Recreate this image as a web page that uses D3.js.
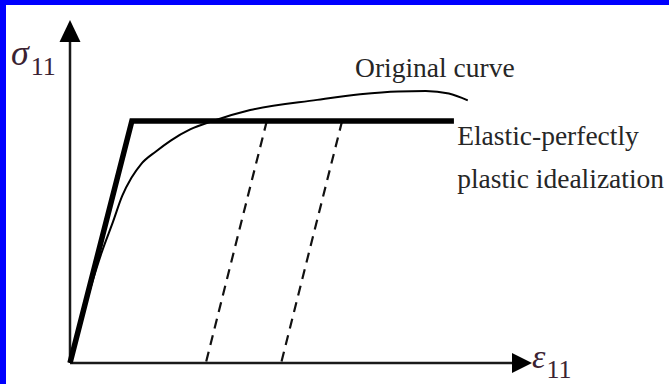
<!DOCTYPE html>
<html>
<head>
<meta charset="utf-8">
<script src="https://cdn.jsdelivr.net/npm/d3@7"></script>
<style>
  body { margin: 0; background: #fff; }
  svg { display: block; }
  text { font-family: "Liberation Serif", "DejaVu Serif", serif; }
</style>
</head>
<body>
<div id="chart"></div>
<script>
// strain / stress values (plateau stress = 1)
var original_curve = [
  [0, 0], [0.216, 0.157], [0.45, 0.314], [0.69, 0.459], [0.93, 0.583],
  [1.13, 0.69], [1.33, 0.765], [1.54, 0.822], [1.86, 0.874], [2.18, 0.919],
  [2.60, 0.965], [3.095, 1.0], [3.90, 1.045], [5.35, 1.087], [6.28, 1.11],
  [7.1, 1.122], [7.7, 1.124], [8.2, 1.113], [8.61, 1.085]
]
var idealization = [[0, 0], [1.34, 1], [8.31, 1]]
var unloading = [
  [[4.26, 1], [2.94, 0]],
  [[5.89, 1], [4.57, 0]]
]
var axis_max = { strain: 10, stress: 1.417 }

var labels = [
  { text: "Original curve", strain: 6.17, stress: 1.18 },
  { text: "Elastic-perfectly", strain: 8.38, stress: 0.9 },
  { text: "plastic idealization", strain: 8.38, stress: 0.723 }
]

var width = 669, height = 384

var svg = d3.select("#chart").append("svg")
    .attr("width", width)
    .attr("height", height)

// blue frame (top and left only)
svg.append("rect").attr("x", 0).attr("y", 0).attr("width", width).attr("height", 5).style("fill", "#0000ff")
svg.append("rect").attr("x", 0).attr("y", 0).attr("width", 6).attr("height", height).style("fill", "#0000ff")

var x = d3.scaleLinear().domain([0, axis_max.strain]).range([70, 532])
var y = d3.scaleLinear().domain([0, axis_max.stress]).range([363, 20])

var line = d3.line()
    .x(function(d) { return x(d[0]) })
    .y(function(d) { return y(d[1]) })

// axes
var x0 = x(0), y0 = y(0), xe = x(axis_max.strain), ye = y(axis_max.stress)
svg.append("line")
    .attr("x1", x0).attr("y1", y0).attr("x2", xe - 15).attr("y2", y0)
    .style("stroke", "#1a1a1a").style("stroke-width", 2.5)
svg.append("line")
    .attr("x1", x0).attr("y1", y0).attr("x2", x0).attr("y2", ye + 15)
    .style("stroke", "#1a1a1a").style("stroke-width", 2.5)
svg.append("path")
    .attr("d", "M" + xe + "," + y0 + " L" + (xe - 20) + "," + (y0 - 10) + " L" + (xe - 20) + "," + (y0 + 10) + "Z")
    .style("fill", "#000")
svg.append("path")
    .attr("d", "M" + x0 + "," + ye + " L" + (x0 - 10.5) + "," + (ye + 22) + " L" + (x0 + 10.5) + "," + (ye + 22) + "Z")
    .style("fill", "#000")

// unloading lines
svg.append("g").selectAll("path")
    .data(unloading)
  .enter().append("path")
    .attr("d", line)
    .style("fill", "none")
    .style("stroke", "#111")
    .style("stroke-width", 2.2)
    .style("stroke-dasharray", "10,7")

// idealization
svg.append("path")
    .attr("d", line(idealization))
    .style("fill", "none")
    .style("stroke", "#000")
    .style("stroke-width", 5.5)
    .style("stroke-linejoin", "miter")

// original curve
svg.append("path")
    .attr("d", line.curve(d3.curveMonotoneX)(original_curve))
    .style("fill", "none")
    .style("stroke", "#000")
    .style("stroke-width", 2)

// text labels
svg.append("g").selectAll("text")
    .data(labels)
  .enter().append("text")
    .attr("x", function(d) { return x(d.strain) })
    .attr("y", function(d) { return y(d.stress) })
    .style("font-size", "27.5px")
    .style("fill", "#262626")
    .text(function(d) { return d.text })

// axis symbols
var sig = svg.append("text")
    .attr("x", 11).attr("y", 65)
    .style("fill", "#3a2232")
sig.append("tspan").style("font-style", "italic").style("font-size", "36px").text("σ")
sig.append("tspan").attr("y", 75).attr("dx", 2).style("font-size", "26px").text("11")

var eps = svg.append("text")
    .attr("x", 532).attr("y", 368)
    .style("fill", "#3a2232")
eps.append("tspan").style("font-style", "italic").style("font-size", "34px").text("ε")
eps.append("tspan").attr("y", 378).attr("dx", 1).style("font-size", "26px").text("11")
</script>
</body>
</html>
